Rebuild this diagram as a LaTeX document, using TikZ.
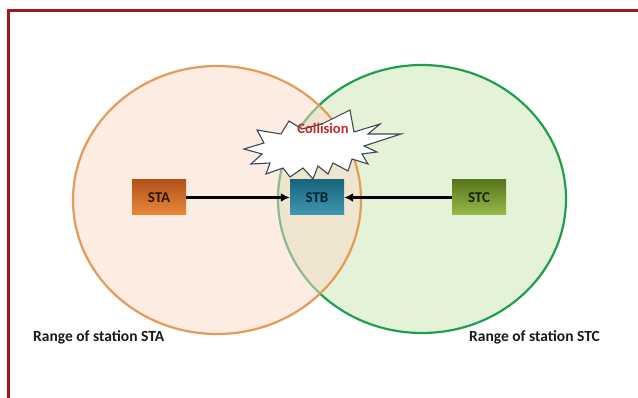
\documentclass[tikz,border=0pt]{standalone}
\usepackage{fontspec}
\setmainfont{Carlito}
\usetikzlibrary{arrows.meta}
\definecolor{frameRed}{HTML}{A01818}
\definecolor{orangeLine}{HTML}{E69A55}
\definecolor{orangeFill}{HTML}{FBD9C6}
\definecolor{greenLine}{HTML}{1E9E4E}
\definecolor{greenFill}{HTML}{E4F3D8}
\definecolor{burstLine}{HTML}{3C4656}
\definecolor{collRed}{HTML}{C0282C}
\definecolor{staTop}{HTML}{B4521A}
\definecolor{staBot}{HTML}{E8893C}
\begin{document}
\begin{tikzpicture}[x=1pt,y=-1pt,
  stationbox/.style={minimum width=54pt,minimum height=35pt,inner sep=0pt,
     font=\fontsize{15}{17}\selectfont\bfseries},
  rangelabel/.style={font=\fontsize{15.5}{17}\selectfont\bfseries,inner sep=0pt,text=black!90},
  sendarrow/.style={line width=3pt,-{Latex[length=9pt,width=9pt]}}]
\useasboundingbox (0,0) rectangle (638,398);
% frame
\draw[frameRed,line width=3pt] (8.5,10.5) rectangle (660,420);
% ranges
\fill[greenFill] (422,199) ellipse [x radius=144pt,y radius=134pt];
\draw[greenLine,line width=2.2pt] (422,199) ellipse [x radius=144pt,y radius=134pt];
\fill[orangeFill,fill opacity=0.5] (217,200) ellipse [x radius=144pt,y radius=134pt];
\draw[orangeLine,line width=2.2pt] (217,200) ellipse [x radius=144pt,y radius=134pt];
% collision burst
\draw[burstLine,fill=white,line width=1.1pt,line join=miter]
 (244,149) -- (264,143) -- (257,130) -- (281,134) -- (289,121) -- (302,129)
 -- (322,124) -- (350,110) -- (354,132) -- (380,124) -- (368,134) -- (401,134)
 -- (364,146) -- (377,152) -- (362,154) -- (368,164) -- (352,159) -- (348,171)
 -- (333,163) -- (328,174) -- (318,166) -- (313,179) -- (303,168) -- (290,177)
 -- (283,168) -- (266,174) -- (270,163) -- (251,164) -- (262,154) -- cycle;
\node[text=collRed,font=\fontsize{14.5}{16}\selectfont\bfseries,inner sep=0pt] (coll) at (323,128) {Collision};
% stations
\node[stationbox,top color=staTop,bottom color=staBot,text={rgb,255:red,45;green,20;blue,5}] (sta) at (159,197.5) {STA};
\node[stationbox,top color={rgb,255:red,26;green,100;blue,125},bottom color={rgb,255:red,64;green,152;blue,176},text={rgb,255:red,10;green,35;blue,50}] (stb) at (317,197.5) {STB};
\node[stationbox,top color={rgb,255:red,88;green,118;blue,30},bottom color={rgb,255:red,152;green,186;blue,72},text={rgb,255:red,25;green,35;blue,10}] (stc) at (479,197.5) {STC};
\draw[sendarrow] (sta.east) -- (stb.west);
\draw[sendarrow] (stc.west) -- (stb.east);
% labels
\node[rangelabel,anchor=west] (la) at (33,337) {Range of station STA};
\node[rangelabel,anchor=west] (lc) at (469,337) {Range of station STC};
\end{tikzpicture}
\end{document}
